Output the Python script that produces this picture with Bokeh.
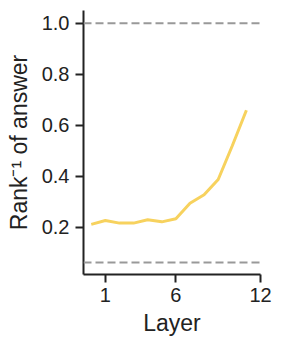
from bokeh.plotting import figure
from bokeh.models import Span, FixedTicker, Range1d
from bokeh.embed import file_html
from bokeh.resources import INLINE

layers = [0, 1, 2, 3, 4, 5, 6, 7, 8, 9, 10, 11]
inv_rank = [0.212, 0.227, 0.217, 0.217, 0.230, 0.222, 0.234, 0.295, 0.328, 0.388, 0.52, 0.659]
upper_ref = 1.0
lower_ref = 0.0625
x_ticks = [1, 6, 12]
y_ticks = [0.2, 0.4, 0.6, 0.8, 1.0]

FONT = "Liberation Sans"
INK = "#222222"

p = figure(width=280, height=340, output_backend="svg", toolbar_location=None,
           x_range=Range1d(-0.55, 12), y_range=Range1d(0.0157, 1.05),
           min_border_left=83, min_border_right=20, min_border_top=10, min_border_bottom=66)
p.outline_line_color = None
p.xgrid.visible = False
p.ygrid.visible = False
p.background_fill_color = "white"
p.border_fill_color = "white"

for v in (upper_ref, lower_ref):
    p.add_layout(Span(location=v, dimension="width", line_color="#999999",
                      line_width=2, line_dash="8 4"))

p.line(layers, inv_rank, line_color="#F7D25E", line_width=3)

for ax in (p.xaxis[0], p.yaxis[0]):
    ax.axis_line_color = INK
    ax.axis_line_width = 2
    ax.major_tick_line_color = INK
    ax.major_tick_line_width = 2
    ax.major_tick_in = 0
    ax.major_tick_out = 8
    ax.minor_tick_line_color = None
    ax.major_label_text_font = FONT
    ax.major_label_text_font_size = "20px"
    ax.major_label_text_color = INK
    ax.axis_label_text_font = FONT
    ax.axis_label_text_font_size = "23px"
    ax.axis_label_text_font_style = "normal"
    ax.axis_label_text_color = INK

p.xaxis.ticker = FixedTicker(ticks=x_ticks)
p.yaxis.ticker = FixedTicker(ticks=y_ticks)
p.yaxis.major_label_overrides = {0.2: "0.2", 0.4: "0.4", 0.6: "0.6", 0.8: "0.8", 1.0: "1.0"}
p.xaxis.axis_label = "Layer"
p.yaxis.axis_label = "Rank\u207b\u00b9 of answer"
p.xaxis.major_label_standoff = 5
p.yaxis.major_label_standoff = 6
p.xaxis.axis_label_standoff = 5
p.yaxis.axis_label_standoff = 7

open("out.html", "w").write(file_html(p, INLINE))
